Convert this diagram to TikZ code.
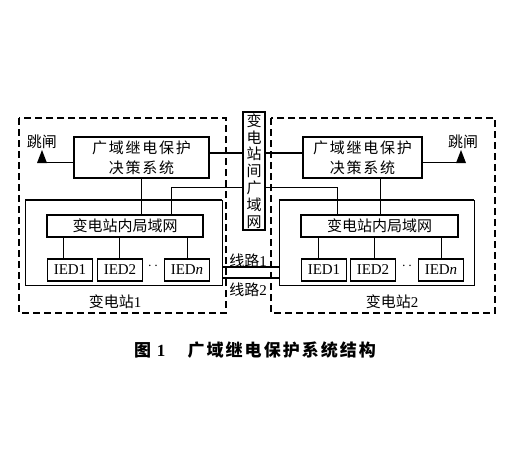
\documentclass[tikz,border=0pt]{standalone}
\usepackage{fontspec}
\setmainfont{Liberation Serif}
\newfontfamily\cjk{Noto Sans CJK SC}
\newfontfamily\cjkwide[LetterSpace=12]{Noto Sans CJK SC}
\usetikzlibrary{positioning}

\begin{document}
\begin{tikzpicture}[x=1pt, y=-1pt, font=\fontsize{15}{17}\selectfont,
    frame/.style={draw, line width=1.2pt, inner sep=0pt},
    decbox/.style={frame, minimum height=41pt, align=center, font=\cjkwide\fontsize{15}{20}\selectfont},
    lanbox/.style={frame, minimum width=156pt, minimum height=22pt, font=\cjk\fontsize{15}{17}\selectfont},
    iedbox/.style={frame, minimum width=45pt, minimum height=22pt, font=\fontsize{15}{16}\selectfont},
    stabox/.style={draw, line width=1pt},
    zone/.style={draw, line width=1.3pt, dash pattern=on 7pt off 4pt},
    bus/.style={line width=2.4pt},
    wire/.style={line width=1pt},
    cjklabel/.style={font=\cjk\fontsize{15}{17}\selectfont, inner sep=0pt}]
  \useasboundingbox (0,0) rectangle (509,456);

  % dashed zones
  \draw[zone] (19,118) rectangle (226,313);
  \draw[zone] (271,118) rectangle (495,313);

  % substation frames with heavy top edge
  \draw[stabox] (25,200) rectangle (222,285);
  \draw[bus] (25,200) -- (222,200);
  \draw[stabox] (279,200) rectangle (474,285);
  \draw[bus] (279,200) -- (474,200);

  % inter-station wide area network
  \node[frame, minimum width=22pt, minimum height=118pt, align=center,
        font=\cjk\fontsize{15}{16.8}\selectfont] (wan) at (254,171)
        {变\\电\\站\\间\\广\\域\\网};

  % station 1
  \node[decbox, minimum width=135pt] (decA) at (141.5,157.5) {广域继电保护\\决策系统};
  \node[lanbox] (lanA) at (125,226) {变电站内局域网};
  \node[iedbox] (iedA1) at (70,270) {IED1};
  \node[iedbox] (iedA2) at (120,270) {IED2};
  \node[iedbox] (iedAn) at (187,270) {IED\textit{n}};
  \node (dotsA) at (153,266) {$\cdot\,\cdot$};
  \node[cjklabel] (staA) at (115,302) {变电站{\fontspec{Liberation Serif}1}};
  \node[cjklabel] (tripA) at (42,142) {跳闸};
  \coordinate (arrA) at (42,162);

  % station 2
  \node[decbox, minimum width=119pt] (decB) at (362.5,157.5) {广域继电保护\\决策系统};
  \node[lanbox, minimum width=157pt] (lanB) at (379.5,226) {变电站内局域网};
  \node[iedbox] (iedB1) at (324,270) {IED1};
  \node[iedbox] (iedB2) at (373,270) {IED2};
  \node[iedbox] (iedBn) at (441,270) {IED\textit{n}};
  \node (dotsB) at (407,266) {$\cdot\,\cdot$};
  \node[cjklabel] (staB) at (392,302) {变电站{\fontspec{Liberation Serif}2}};
  \node[cjklabel] (tripB) at (463,142) {跳闸};
  \coordinate (arrB) at (461,162);

  % trip outputs
  \draw[wire] (decA.west |- arrA) -- (arrA);
  \fill (arrA) ++(-5,1) -- ++(10,0) -- ++(-5,-13) -- cycle;
  \draw[wire] (decB.east |- arrB) -- (arrB);
  \fill (arrB) ++(-5,1) -- ++(10,0) -- ++(-5,-13) -- cycle;

  % links to the wide area network
  \draw[bus] (decA.east |- 0,153) -- (wan.west |- 0,153);
  \draw[bus] (wan.east |- 0,153) -- (decB.west |- 0,153);
  \coordinate (tapA) at (171,187);
  \coordinate (tapB) at (337,187);
  \draw[wire] (wan.west |- tapA) -| (tapA |- lanA.north);
  \draw[wire] (wan.east |- tapB) -| (tapB |- lanB.north);

  % station buses
  \draw[wire] (decA.south) -- (decA.south |- lanA.north);
  \draw[wire] (decB.south -| 380,0) -- (380,0 |- lanB.north);
  \foreach \i/\x in {A1/63, A2/119, An/187, B1/318, B2/374, Bn/441}
    \draw[wire] (\x,0 |- lanA.south) -- (\x,0 |- ied\i.north);

  % lines between stations
  \draw[bus] (222,267) -- (279,267);
  \draw[bus] (222,278) -- (279,278);
  \node[cjklabel] (lineA) at (248,261) {线路{\fontspec{Liberation Serif}1}};
  \node[cjklabel] (lineB) at (248,290) {线路{\fontspec{Liberation Serif}2}};

  % caption
  \node[font=\fontsize{17}{20}\selectfont] (cap) at (255,350)
        {{\cjk\bfseries 图}\hspace{0.35em}\textbf{1}\hspace{1.3em}{\cjkwide\bfseries 广域继电保护系统结构}};
\end{tikzpicture}
\end{document}
